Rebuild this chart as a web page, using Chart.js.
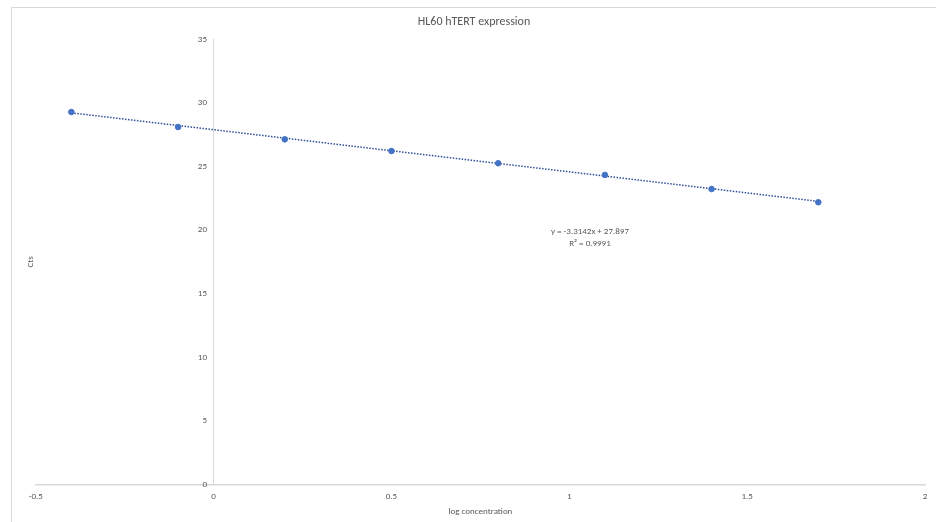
<!DOCTYPE html>
<html>
<head>
<meta charset="utf-8">
<script src="https://cdn.jsdelivr.net/npm/chart.js@4"></script>
<style>
  html, body { margin: 0; padding: 0; background: #fff; }
  #wrap { width: 936px; height: 522px; }
</style>
</head>
<body>
<div id="wrap"><canvas id="scatter1"></canvas></div>
<script>
// log concentration vs Ct values
const logConc = [-0.4, -0.1, 0.2, 0.5, 0.8, 1.1, 1.4, 1.7];
const cts = [29.29, 28.11, 27.14, 26.22, 25.26, 24.34, 23.23, 22.19];

// Excel linear trendline, as printed on the chart
const slope = -3.3142;
const intercept = 27.897;
const rSquared = '0.9991';

const xTicks = { min: -0.5, max: 2, step: 0.5 };
const yTicks = { min: 0, max: 35, step: 5 };

const textColor = '#595959';
const axisColor = '#d9d9d9';
const fontFamily = "Carlito, 'Liberation Sans Narrow', 'Liberation Sans', Arial, sans-serif";

const points = logConc.map((x, i) => ({ x: x, y: cts[i] }));
const xFirst = logConc[0];
const xLast = logConc[logConc.length - 1];
const trend = [
    { x: xFirst, y: slope * xFirst + intercept },
    { x: xLast, y: slope * xLast + intercept }
];

// light frame round the chart, like the Excel chart area border
const frame = {
    id: 'frame',
    beforeDraw(chart) {
        const c = chart.ctx;
        c.save();
        c.strokeStyle = axisColor;
        c.lineWidth = 1;
        c.strokeRect(11.5, 7.5, chart.width, chart.height);
        c.restore();
    }
};

// trendline equation label, anchored in data space
const eqLabel = {
    id: 'eqLabel',
    afterDatasetsDraw(chart) {
        const c = chart.ctx;
        const xs = chart.scales.x, ys = chart.scales.y;
        const px = xs.getPixelForValue(1.058);
        c.save();
        c.fillStyle = textColor;
        c.font = '9px ' + fontFamily;
        c.textAlign = 'center';
        c.textBaseline = 'middle';
        c.fillText('y = ' + slope + 'x + ' + intercept, px, ys.getPixelForValue(19.9));
        c.fillText('R\u00b2 = ' + rSquared, px, ys.getPixelForValue(18.95));
        c.restore();
    }
};

const ctx1 = document.getElementById('scatter1');

new Chart(ctx1, {
    type: 'scatter',
    data: {
        datasets: [{
            label: 'Cts',
            data: points,
            pointRadius: 2.8,
            pointHoverRadius: 2.8,
            pointBackgroundColor: '#4472c4',
            pointBorderColor: '#4472c4',
            showLine: false
        }, {
            label: 'Linear trend',
            data: trend,
            showLine: true,
            pointRadius: 0,
            borderColor: '#2f4f9a',
            borderWidth: 1.5,
            borderDash: [1.5, 1.5]
        }]
    },
    options: {
        responsive: true,
        maintainAspectRatio: false,
        animation: false,
        layout: {
            padding: { left: 23, right: 11, top: 0, bottom: 5 }
        },
        plugins: {
            legend: { display: false },
            tooltip: { enabled: false },
            title: {
                display: true,
                text: 'HL60 hTERT expression',
                color: textColor,
                font: { family: fontFamily, size: 12, weight: 'normal' },
                padding: { top: 15, bottom: 10 }
            }
        },
        scales: {
            x: {
                type: 'linear',
                position: 'bottom',
                min: xTicks.min,
                max: xTicks.max,
                grid: { display: false, drawTicks: false },
                border: { display: true, color: axisColor, width: 1.5 },
                ticks: {
                    stepSize: xTicks.step,
                    color: textColor,
                    padding: 7,
                    maxRotation: 0,
                    font: { family: fontFamily, size: 9 },
                    callback: (v) => String(Number(v.toFixed(2)))
                },
                title: {
                    display: true,
                    text: 'log concentration',
                    color: textColor,
                    font: { family: fontFamily, size: 9 },
                    padding: { top: -3, bottom: 0 }
                }
            },
            y: {
                type: 'linear',
                position: { x: 0 },
                min: yTicks.min,
                max: yTicks.max,
                afterFit(scale) { scale.width = 0; },
                grid: { display: false, drawTicks: false },
                border: { display: true, color: axisColor, width: 1 },
                ticks: {
                    stepSize: yTicks.step,
                    color: textColor,
                    font: { family: fontFamily, size: 9 },
                    // labels sit flush on a crossing axis, so leave a small gap
                    callback: (v) => v + '\u2007\u2009'
                }
            },
            yTitle: {
                type: 'linear',
                axis: 'y',
                position: 'left',
                min: yTicks.min,
                max: yTicks.max,
                grid: { display: false, drawTicks: false },
                border: { display: false },
                ticks: { display: false },
                title: {
                    display: true,
                    text: 'Cts',
                    color: textColor,
                    font: { family: fontFamily, size: 9 },
                    padding: { top: 2, bottom: 0 }
                }
            }
        }
    },
    plugins: [frame, eqLabel]
});
</script>
</body>
</html>
